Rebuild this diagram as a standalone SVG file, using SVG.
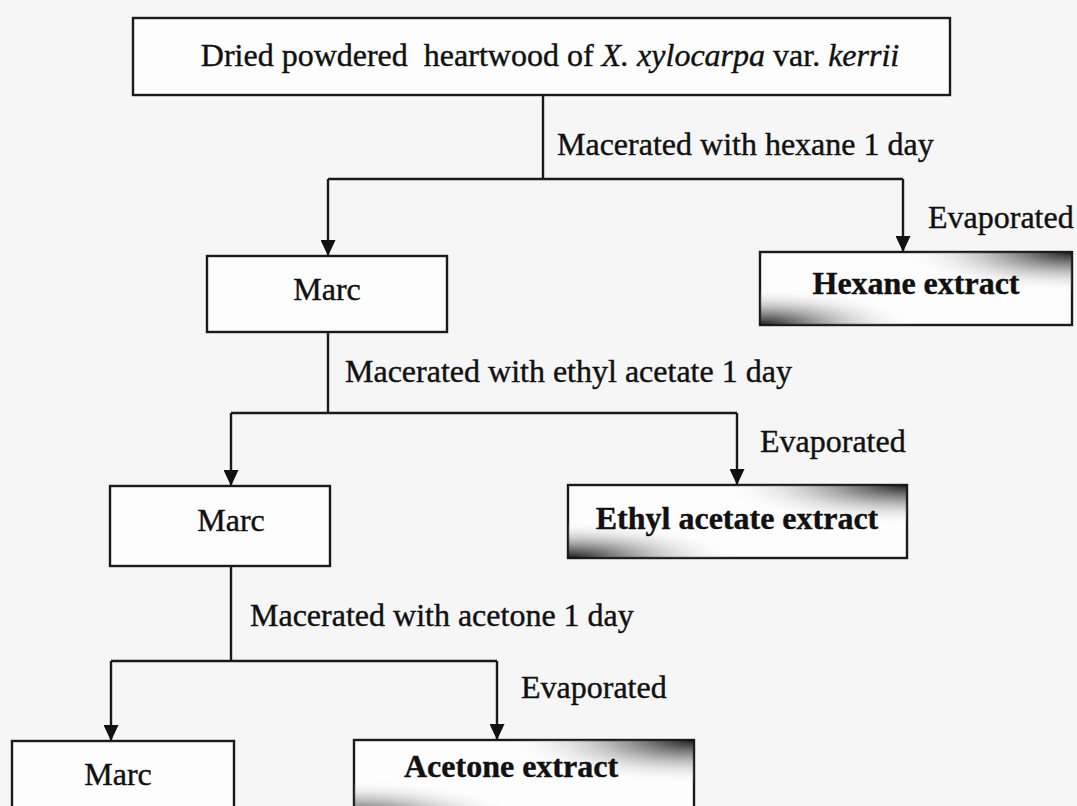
<svg xmlns="http://www.w3.org/2000/svg" width="1077" height="806" viewBox="0 0 1077 806">
<style>
.box{fill:#fdfdfd;stroke:#1a1a1a;stroke-width:2.4}
.t{font-family:"Liberation Serif","Times New Roman",serif;font-size:32px;fill:#111;stroke:#111;stroke-width:0.4;white-space:pre}
.c{text-anchor:middle}
.b{font-weight:bold}
.ln{stroke:#1a1a1a;stroke-width:2.4;fill:none}
</style>
<defs>
<marker id="ah" viewBox="0 0 16 15" refX="16" refY="7.5" markerWidth="16" markerHeight="15" markerUnits="userSpaceOnUse" orient="auto">
<path d="M0,0 L16,7.5 L0,15 Z" fill="#111"/>
</marker>
<radialGradient id="tr" cx="1" cy="0" r="0.55">
<stop offset="0" stop-color="#111" stop-opacity="0.95"/>
<stop offset="0.45" stop-color="#444" stop-opacity="0.4"/>
<stop offset="1" stop-color="#fff" stop-opacity="0"/>
</radialGradient>
<radialGradient id="bl" cx="0" cy="1" r="0.5">
<stop offset="0" stop-color="#111" stop-opacity="0.95"/>
<stop offset="0.45" stop-color="#444" stop-opacity="0.4"/>
<stop offset="1" stop-color="#fff" stop-opacity="0"/>
</radialGradient>
</defs>
<rect width="1077" height="806" fill="#f6f6f6"/>

<g id="connectors">
<path class="ln" d="M543,95 V179"/>
<path class="ln" d="M328,179 H903"/>
<path class="ln" d="M328,179 V256" marker-end="url(#ah)"/>
<path class="ln" d="M903,179 V252" marker-end="url(#ah)"/>
<path class="ln" d="M328,332 V413"/>
<path class="ln" d="M231,413 H737"/>
<path class="ln" d="M231,413 V486" marker-end="url(#ah)"/>
<path class="ln" d="M737,413 V485" marker-end="url(#ah)"/>
<path class="ln" d="M231,566 V661"/>
<path class="ln" d="M111,661 H497"/>
<path class="ln" d="M111,661 V741" marker-end="url(#ah)"/>
<path class="ln" d="M497,661 V740" marker-end="url(#ah)"/>
<text class="t" x="557" y="155">Macerated with hexane 1 day</text>
<text class="t" x="928" y="228">Evaporated</text>
<text class="t" x="345" y="382">Macerated with ethyl acetate 1 day</text>
<text class="t" x="760" y="452">Evaporated</text>
<text class="t" x="250" y="626">Macerated with acetone 1 day</text>
<text class="t" x="521" y="698">Evaporated</text>
</g>

<g id="start">
<rect class="box" x="133" y="18" width="817" height="77"/>
<text class="t c" x="550" y="66">Dried powdered  heartwood of <tspan font-style="italic">X. xylocarpa</tspan> var. <tspan font-style="italic">kerrii</tspan></text>
</g>

<g id="marc1">
<rect class="box" x="207" y="256" width="240" height="76"/>
<text class="t c" x="327" y="300">Marc</text>
</g>

<g id="hexane">
<rect class="box" x="760" y="252" width="312" height="73"/>
<rect x="760" y="252" width="312" height="73" fill="url(#tr)"/>
<rect x="760" y="252" width="312" height="73" fill="url(#bl)"/>
<text class="t c b" x="916" y="294">Hexane extract</text>
</g>

<g id="marc2">
<rect class="box" x="110" y="486" width="220" height="80"/>
<text class="t c" x="231" y="531">Marc</text>
</g>

<g id="ethyl">
<rect class="box" x="568" y="485" width="339" height="73"/>
<rect x="568" y="485" width="339" height="73" fill="url(#tr)"/>
<rect x="568" y="485" width="339" height="73" fill="url(#bl)"/>
<text class="t c b" x="737" y="529">Ethyl acetate extract</text>
</g>

<g id="marc3">
<rect class="box" x="12" y="741" width="222" height="80"/>
<text class="t c" x="118" y="785">Marc</text>
</g>

<g id="acetone">
<rect class="box" x="354" y="740" width="340" height="80"/>
<rect x="354" y="740" width="340" height="80" fill="url(#tr)"/>
<rect x="354" y="740" width="340" height="80" fill="url(#bl)"/>
<text class="t c b" x="511" y="777">Acetone extract</text>
</g>
</svg>
